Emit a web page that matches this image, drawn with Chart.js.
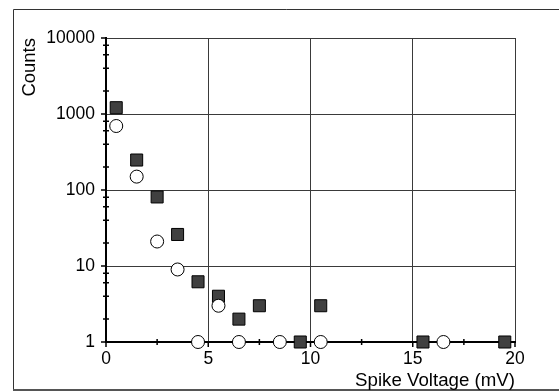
<!DOCTYPE html>
<html>
<head>
<meta charset="utf-8">
<script src="https://cdn.jsdelivr.net/npm/chart.js@4/dist/chart.umd.min.js"></script>
<style>
  html, body { margin: 0; padding: 0; background: #ffffff; }
  #wrap { width: 559px; height: 392px; position: relative; }
</style>
</head>
<body>
<div id="wrap"><canvas id="c" width="559" height="392"></canvas></div>
<script>
// ---- data ----
const squareX = [0.5, 1.5, 2.5, 3.5, 4.5, 5.5, 6.5, 7.5, 9.5, 10.5, 15.5, 19.5];
const squareCounts = [1210, 248, 81, 26, 6.2, 4, 2, 3, 1, 3, 1, 1];
const circleX = [0.5, 1.5, 2.5, 3.5, 4.5, 5.5, 6.5, 8.5, 10.5, 16.5];
const circleCounts = [695, 150, 21, 9, 1, 3, 1, 1, 1, 1];
const xTickValues = [0, 5, 10, 15, 20];
const yTickValues = [1, 10, 100, 1000, 10000];
const xMinorTicks = [2.5, 7.5, 12.5, 17.5];
const yMinorMultipliers = [2, 4, 6, 8];
const xTitle = 'Spike Voltage (mV)';
const yTitle = 'Counts';

const toPoints = (xs, ys) => xs.map((x, i) => ({ x: x, y: ys[i] }));

const frame = {
  id: 'frame',
  beforeDraw(chart) {
    const ctx = chart.ctx;
    ctx.save();
    ctx.fillStyle = '#ffffff';
    ctx.fillRect(0, 0, chart.width, chart.height);
    ctx.strokeStyle = '#333333';
    ctx.lineWidth = 1;
    ctx.beginPath();
    ctx.moveTo(chart.width, 9.5);
    ctx.lineTo(13.5, 9.5);
    ctx.lineTo(13.5, 390);
    ctx.stroke();
    ctx.strokeStyle = '#555555';
    ctx.lineWidth = 2;
    ctx.beginPath();
    ctx.moveTo(13, 390);
    ctx.lineTo(chart.width, 390);
    ctx.stroke();
    ctx.restore();
  }
};

const tickMarks = {
  id: 'tickMarks',
  beforeDatasetsDraw(chart) {
    const ctx = chart.ctx;
    const xs = chart.scales.x, ys = chart.scales.y;
    const ax = xs.getPixelForValue(xs.min);
    const ay = ys.getPixelForValue(ys.min);
    ctx.save();
    ctx.strokeStyle = '#000000';
    ctx.lineWidth = 1.5;
    ctx.beginPath();
    // y major ticks (outward)
    yTickValues.forEach(v => {
      const p = ys.getPixelForValue(v);
      ctx.moveTo(ax - 5, p); ctx.lineTo(ax, p);
    });
    // y minor ticks (crossing)
    for (let d = 1; d < 10000; d *= 10) {
      yMinorMultipliers.forEach(m => {
        const p = ys.getPixelForValue(d * m);
        ctx.moveTo(ax - 3, p); ctx.lineTo(ax + 3, p);
      });
    }
    // x major ticks (outward)
    xTickValues.forEach(v => {
      const p = xs.getPixelForValue(v);
      ctx.moveTo(p, ay); ctx.lineTo(p, ay + 5);
    });
    // x minor ticks (crossing)
    xMinorTicks.forEach(v => {
      const p = xs.getPixelForValue(v);
      ctx.moveTo(p, ay - 3); ctx.lineTo(p, ay + 3);
    });
    ctx.stroke();
    ctx.restore();
  }
};

const tickFont = { family: '"Liberation Sans", Arial, sans-serif', size: 17.5 };

new Chart(document.getElementById('c'), {
  type: 'scatter',
  data: {
    datasets: [
      {
        label: 'circles',
        data: toPoints(circleX, circleCounts),
        pointStyle: 'circle',
        pointRadius: 6.5,
        pointHoverRadius: 6.5,
        backgroundColor: '#ffffff',
        borderColor: '#000000',
        borderWidth: 1,
        clip: false
      },
      {
        label: 'squares',
        data: toPoints(squareX, squareCounts),
        pointStyle: 'rect',
        pointRadius: 8.5,
        pointHoverRadius: 8.5,
        backgroundColor: '#404040',
        borderColor: '#000000',
        borderWidth: 1,
        clip: false
      }
    ]
  },
  options: {
    responsive: false,
    animation: false,
    events: [],
    layout: { padding: { left: 0, top: 38, right: 44, bottom: 0 } },
    plugins: { legend: { display: false }, tooltip: { enabled: false } },
    scales: {
      x: {
        type: 'linear',
        min: 0,
        max: 20,
        afterBuildTicks: s => { s.ticks = xTickValues.map(v => ({ value: v })); },
        afterFit: s => { s.height = 50; },
        grid: { color: '#3a3a3a', lineWidth: 1, drawTicks: false },
        border: { color: '#000000', width: 2 },
        ticks: { font: tickFont, color: '#000000', padding: 7, maxRotation: 0, callback: v => String(v) },
        title: {
          display: true, text: xTitle, align: 'end', color: '#000000',
          font: { family: '"Liberation Sans", Arial, sans-serif', size: 18.7 },
          padding: { top: 0, bottom: 0 }
        }
      },
      y: {
        type: 'logarithmic',
        min: 1,
        max: 10000,
        afterBuildTicks: s => { s.ticks = yTickValues.map(v => ({ value: v })); },
        afterFit: s => { s.width = 106; },
        grid: { color: '#3a3a3a', lineWidth: 1, drawTicks: false },
        border: { color: '#000000', width: 2 },
        ticks: { font: tickFont, color: '#000000', padding: 11, callback: v => String(v) },
        title: {
          display: true, text: yTitle, align: 'end', color: '#000000',
          font: { family: '"Liberation Sans", Arial, sans-serif', size: 18.5 },
          padding: { top: 19, bottom: 0 }
        }
      }
    }
  },
  plugins: [frame, tickMarks]
});
</script>
</body>
</html>
